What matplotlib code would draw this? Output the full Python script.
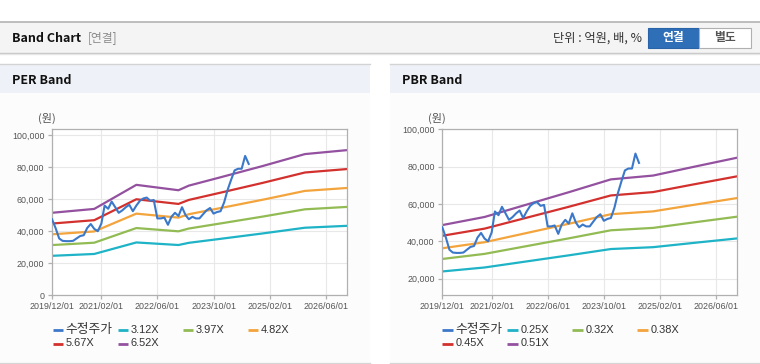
import matplotlib
matplotlib.use("Agg")
import matplotlib.pyplot as plt
from matplotlib.lines import Line2D
from matplotlib.patches import Rectangle
import pandas as pd

# ---------------- data ----------------
price_start = "2019-12-01"
price_values = [47500, 42000, 35500, 34000, 33800, 33800, 34000, 35500, 37000, 37500,
                42000, 44500, 41500, 40000, 44800, 56000, 54000, 58500, 55000, 51500,
                53000, 55000, 56500, 52500, 56000, 59000, 60500, 61000, 59000, 59500,
                48000, 48000, 48500, 44000, 49000, 51500, 49500, 55000, 50000, 47500,
                49000, 48000, 48000, 50500, 53000, 54500, 51000, 52000, 52500, 58000,
                66000, 72000, 78000, 79000, 79000, 87000, 82000]

per_dates = ["2019-12-01", "2020-12-01", "2021-12-01", "2022-12-01", "2023-03-01",
             "2023-12-01", "2024-12-01", "2025-12-01", "2026-12-01"]
eps_values = [7900, 8270, 10575, 10060, 10500, 11300, 12380, 13520, 13900]
per_multiples = [3.12, 3.97, 4.82, 5.67, 6.52]
per_labels = ["3.12X", "3.97X", "4.82X", "5.67X", "6.52X"]

pbr_dates = ["2019-12-01", "2020-12-01", "2021-12-01", "2022-12-01", "2023-12-01",
             "2024-12-01", "2025-12-01", "2026-12-01"]
bps_values = [95500, 104000, 117000, 130000, 143500, 147500, 157000, 166300]
pbr_multiples = [0.25, 0.32, 0.38, 0.45, 0.51]
pbr_labels = ["0.25X", "0.32X", "0.38X", "0.45X", "0.51X"]

price_label = "수정주가"
xtick_dates = ["2019-12-01", "2021-02-01", "2022-06-01", "2023-10-01", "2025-02-01", "2026-06-01"]
x_range = ["2019-12-01", "2026-12-01"]

price_color = "#3b78c9"
band_colors = ["#1eb3c6", "#92bb54", "#f3a43c", "#d2312e", "#93519f"]

# ---------------- figure ----------------
W, H = 760, 364
fig = plt.figure(figsize=(W / 100, H / 100), dpi=100)
fig.patch.set_facecolor("white")

KR = ["Noto Sans CJK KR", "DejaVu Sans"]
NUM = ["Liberation Sans", "DejaVu Sans"]


def fx(x):
    return x / W


def fy(y):
    return 1 - y / H


def rect(x0, y0, x1, y1, z=-10, **kw):
    fig.add_artist(Rectangle((fx(x0), fy(y1)), fx(x1) - fx(x0), fy(y0) - fy(y1),
                             transform=fig.transFigure, zorder=z, **kw))


def hline(x0, x1, y, z=-9, **kw):
    fig.add_artist(Line2D([fx(x0), fx(x1)], [fy(y), fy(y)], transform=fig.transFigure,
                          zorder=z, **kw))


# header bar
rect(0, 22, 760, 53, facecolor="#f4f4f4", edgecolor="none")
hline(0, 760, 22.3, color="#b3b3b3", lw=1.2)
hline(0, 760, 53, color="#c4c4c4", lw=1.0)
hline(0, 760, 54, color="#e6e6e6", lw=1.0)
fig.text(fx(12), fy(38), "Band Chart", family=KR, fontsize=9, fontweight="bold",
         color="#111111", va="center", ha="left")
fig.text(fx(88), fy(38), "[연결]", family=KR, fontsize=8.5, color="#8a8a8a",
         va="center", ha="left")
fig.text(fx(642), fy(38), "단위 : 억원, 배, %", family=KR, fontsize=8.8, color="#333333",
         va="center", ha="right")
rect(648, 28.5, 699, 47.5, z=-8, facecolor="#2f6fb8", edgecolor="#2a64a8", lw=0.8)
rect(699, 28.5, 751, 47.5, z=-8, facecolor="#ffffff", edgecolor="#b0b0b0", lw=0.8)
fig.text(fx(673.5), fy(38), "연결", family=KR, fontsize=8.5, fontweight="bold",
         color="white", va="center", ha="center")
fig.text(fx(725), fy(38), "별도", family=KR, fontsize=8.5, fontweight="bold",
         color="#555555", va="center", ha="center")

# panels
for (px0, px1, title) in [(0, 370, "PER Band"), (390, 760, "PBR Band")]:
    rect(px0, 64, px1, 93, facecolor="#eef2f8", edgecolor="none")
    rect(px0, 93, px1, 362, facecolor="#fcfcfc", edgecolor="none")
    hline(px0, px1, 64.3, color="#d3d3d3", lw=1.0)
    hline(px0, px1, 362.7, color="#d6d6d6", lw=1.0)
    fig.text(fx(px0 + 12), fy(80), title, family=KR, fontsize=9, fontweight="bold",
             color="#111111", va="center", ha="left")

price_dates = pd.date_range(price_start, periods=len(price_values), freq="MS")
per_d = pd.to_datetime(per_dates)
pbr_d = pd.to_datetime(pbr_dates)
xt = pd.to_datetime(xtick_dates)
xr = pd.to_datetime(x_range)


def make_axes(x0, x1, y0, y1, ylim, yticks, base_dates, base_vals, mults, labels, leg_x):
    ax = fig.add_axes([fx(x0), fy(y1), fx(x1) - fx(x0), fy(y0) - fy(y1)])
    ax.set_facecolor("white")
    for sp in ax.spines.values():
        sp.set_color("#b0b0b0")
        sp.set_linewidth(0.9)
    ax.grid(True, color="#e8e8e8", lw=0.8)
    ax.set_axisbelow(True)
    for m, c in zip(mults, band_colors):
        ax.plot(base_dates, [v * m for v in base_vals], color=c, lw=1.6,
                solid_capstyle="butt", zorder=2)
    ax.plot(price_dates, price_values, color=price_color, lw=1.5, zorder=3)
    ax.set_xlim(xr[0], xr[1])
    ax.set_ylim(*ylim)
    ax.set_yticks(yticks)
    ax.set_yticklabels([f"{v:,}" for v in yticks], family=NUM, fontsize=6.4, color="#555555")
    ax.set_xticks(xt)
    ax.set_xticklabels([d.strftime("%Y/%m/%d") for d in xt], family=NUM, fontsize=6.4,
                       color="#555555")
    ax.tick_params(axis="both", length=3, color="#b0b0b0", width=0.9)
    ax.tick_params(axis="x", pad=2)
    ax.tick_params(axis="y", pad=2.5)
    fig.text(fx(x0 - 5), fy(118), "(원)", family=KR, fontsize=8, color="#555555",
             va="center", ha="center")
    entries = [(price_label, price_color)] + list(zip(labels, band_colors))
    for i, (lab, col) in enumerate(entries):
        row, colm = divmod(i, 4)
        lx = leg_x + colm * 65
        ly = 330 + row * 13.5
        fig.add_artist(Line2D([fx(lx), fx(lx + 10.5)], [fy(ly), fy(ly)], color=col, lw=2,
                              transform=fig.transFigure, solid_capstyle="butt"))
        fs = 9.2 if i == 0 else 7.9
        fig.text(fx(lx + 13), fy(ly), lab, family=["Liberation Sans", "Noto Sans CJK KR"],
                 fontsize=fs, color="#333333", va="center", ha="left")
    return ax


make_axes(52, 347, 128.7, 295.3, (0, 104000), [0, 20000, 40000, 60000, 80000, 100000],
          per_d, eps_values, per_multiples, per_labels, 52.7)
make_axes(442.3, 737.3, 129.3, 295.3, (11100, 100000), [20000, 40000, 60000, 80000, 100000],
          pbr_d, bps_values, pbr_multiples, pbr_labels, 442.3)

fig.savefig("out.png", dpi=100, facecolor=fig.get_facecolor())
